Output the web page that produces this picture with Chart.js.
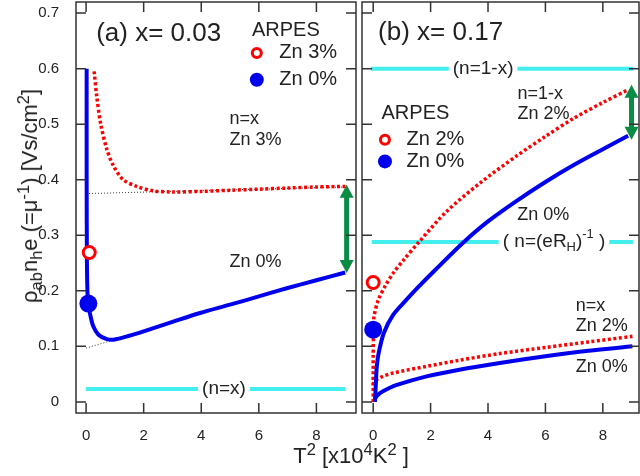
<!DOCTYPE html>
<html lang="en">
<head>
    <meta charset="UTF-8">
    <title>rho_ab n_h e vs T^2</title>
    <script src="https://cdn.jsdelivr.net/npm/chart.js"></script>
    <style>
        body {
            margin: 0;
            background: #fff;
            font-family: 'Liberation Sans', Arial, sans-serif;
            color: #222;
        }

        #wrap {
            position: relative;
            width: 640px;
            height: 476px;
            overflow: hidden;
        }

        #left { position: absolute; left: 0; top: 0; }
        #right { position: absolute; left: 359px; top: 0; }

        .title {
            position: absolute;
            white-space: nowrap;
            font-size: 22px;
            line-height: 1;
        }

        .ytitle {
            left: 30px;
            top: 196px;
            transform: translate(-50%, -50%) rotate(-90deg);
        }

        .xtitle {
            left: 351px;
            top: 456px;
            transform: translate(-50%, -50%);
        }

        sub, sup { font-size: 75%; line-height: 0; }
    </style>
</head>
<body>
    <div id="wrap">
        <canvas id="left" width="359" height="476"></canvas>
        <canvas id="right" width="281" height="476"></canvas>
        <div class="title ytitle">&rho;<sub>ab</sub>n<sub>h</sub>e (=&mu;<sup>-1</sup>) [Vs/cm<sup>2</sup>]</div>
        <div class="title xtitle">T<sup>2</sup> [x10<sup>4</sup>K<sup>2</sup> ]</div>
    </div>

    <script>
        // tick values shared by both panels
        const xTicks = [0, 2, 4, 6, 8];
        const yTicks = [0, 0.1, 0.2, 0.3, 0.4, 0.5, 0.6, 0.7];

        // (a) x = 0.03, T^2 in 10^4 K^2
        const aZn0T2  = [0.02, 0.02, 0.03, 0.05, 0.08, 0.14, 0.25, 0.43, 0.72, 0.95, 1.5, 2, 3, 3.96, 5, 6, 7, 8, 9.0];
        const aZn0Rho = [0.6, 0.4, 0.25, 0.195, 0.175, 0.158, 0.136, 0.121, 0.113, 0.112, 0.119, 0.127, 0.144, 0.16, 0.175, 0.19, 0.205, 0.219, 0.233];
        const aZn3T2  = [0.28, 0.37, 0.51, 0.72, 0.95, 1.29, 1.76, 2.33, 3, 4, 5, 6, 7, 8, 9.05];
        const aZn3Rho = [0.595, 0.55, 0.5, 0.455, 0.425, 0.4, 0.388, 0.38, 0.378, 0.379, 0.381, 0.383, 0.385, 0.387, 0.388];
        const aFitLowT2 = [0, 1.2];
        const aFitLowRho = [0.097, 0.115];
        const aFitHighT2 = [0, 9];
        const aFitHighRho = [0.375, 0.387];
        const aArpesZn3 = [0.11, 0.269];
        const aArpesZn0 = [0.08, 0.177];
        const aLevelNx = 0.023;

        // (b) x = 0.17
        const bUpZn2T2  = [0, 0, 0.01, 0.03, 0.18, 0.41, 0.7, 1.05, 1.63, 2.56, 3.72, 5, 6, 7, 8, 8.88];
        const bUpZn2Rho = [0, 0.08, 0.13, 0.154, 0.184, 0.208, 0.232, 0.255, 0.29, 0.343, 0.394, 0.443, 0.478, 0.511, 0.539, 0.562];
        const bUpZn0T2  = [0.06, 0.1, 0.12, 0.18, 0.37, 0.7, 1.16, 1.5, 2.15, 3.14, 4, 5, 6, 7, 8, 8.88];
        const bUpZn0Rho = [0, 0.04, 0.06, 0.085, 0.124, 0.157, 0.184, 0.203, 0.237, 0.287, 0.325, 0.362, 0.396, 0.427, 0.455, 0.479];
        const bLoZn2T2  = [0, 0.05, 0.3, 0.7, 1.86, 3, 4.41, 6, 7.5, 9.03];
        const bLoZn2Rho = [0.03, 0.037, 0.045, 0.052, 0.064, 0.075, 0.087, 0.098, 0.108, 0.118];
        const bLoZn0T2  = [0.06, 0.15, 0.34, 0.8, 1.86, 3, 4.41, 6, 7.5, 9.03];
        const bLoZn0Rho = [0.005, 0.012, 0.019, 0.03, 0.046, 0.058, 0.07, 0.082, 0.092, 0.1];
        const bArpesZn2 = [0, 0.215];
        const bArpesZn0 = [0, 0.13];
        const bLevel1mx = 0.6;
        const bLevelRH = 0.288;

        const FONT = '"Liberation Sans", Arial, sans-serif';
        const RED = '#ff0000';
        const BLUE = '#0000ee';
        const CYAN = '#44eeee';
        const GREEN = '#0b8c45';

        function pts(xs, ys) {
            return xs.map((x, i) => ({ x: x, y: ys[i] }));
        }

        function solid(data, color) {
            return { data: data, borderColor: color, borderWidth: 4, pointRadius: 0, tension: 0.3, fill: false };
        }

        function dotted(data) {
            return { data: data, borderColor: RED, borderWidth: 3.5, borderDash: [3, 2.5], pointRadius: 0, tension: 0.3, fill: false };
        }

        function thinDots(data) {
            return { data: data, borderColor: '#333', borderWidth: 1, borderDash: [1, 2], pointRadius: 0, tension: 0, fill: false };
        }

        function level(y, x0, x1) {
            return { data: [{ x: x0, y: y }, { x: x1, y: y }], borderColor: CYAN, borderWidth: 4, pointRadius: 0, fill: false };
        }

        function marker(p, open) {
            return {
                data: [{ x: p[0], y: p[1] }], showLine: false,
                pointRadius: open ? 6 : 9, pointHoverRadius: open ? 6 : 9,
                pointBorderWidth: open ? 3 : 0,
                pointBackgroundColor: open ? '#fff' : BLUE,
                pointBorderColor: open ? RED : BLUE
            };
        }

        // text with _{sub} and ^{sup} parts
        function drawRich(ctx, str, x, y, size, align) {
            const parts = [];
            const re = /([_^])\{([^}]*)\}|([^_^]+)/g;
            let m;
            while ((m = re.exec(str))) {
                parts.push(m[3] ? { s: m[3], k: 0 } : { s: m[2], k: m[1] === '^' ? 1 : -1 });
            }
            let w = 0;
            parts.forEach(p => {
                ctx.font = (p.k ? size * 0.68 : size) + 'px ' + FONT;
                p.w = ctx.measureText(p.s).width;
                w += p.w;
            });
            const left = align === 'center' ? x - w / 2 : x;
            return {
                left: left, width: w,
                draw() {
                    let cx = left;
                    ctx.textAlign = 'left';
                    ctx.textBaseline = 'middle';
                    ctx.fillStyle = '#222';
                    parts.forEach(p => {
                        ctx.font = (p.k ? size * 0.68 : size) + 'px ' + FONT;
                        const dy = p.k === 1 ? -size * 0.42 : p.k === -1 ? size * 0.3 : 0;
                        ctx.fillText(p.s, cx, y + dy);
                        cx += p.w;
                    });
                }
            };
        }

        function decor(cfg) {
            return {
                id: 'decor',
                afterDatasetsDraw(chart) {
                    const ctx = chart.ctx;
                    const X = v => chart.scales.x.getPixelForValue(v);
                    const Y = v => chart.scales.y.getPixelForValue(v);
                    ctx.save();

                    // labels sitting in a gap of the cyan lines
                    cfg.levelLabels.forEach(l => {
                        const t = drawRich(ctx, l.text, X(l.x), Y(l.y), 19, 'center');
                        ctx.fillStyle = '#fff';
                        ctx.fillRect(t.left - 4, Y(l.y) - 4, t.width + 8, 8);
                        t.draw();
                    });

                    cfg.notes.forEach(n => {
                        drawRich(ctx, n.text, X(n.x), Y(n.y), n.size || 18, 'left').draw();
                    });

                    cfg.legendMarks.forEach(m => {
                        ctx.beginPath();
                        if (m.open) {
                            ctx.arc(X(m.x), Y(m.y), 4.5, 0, Math.PI * 2);
                            ctx.lineWidth = 3;
                            ctx.strokeStyle = RED;
                            ctx.stroke();
                        } else {
                            ctx.arc(X(m.x), Y(m.y), 7, 0, Math.PI * 2);
                            ctx.fillStyle = BLUE;
                            ctx.fill();
                        }
                    });

                    // double-headed green arrows
                    cfg.arrows.forEach(a => {
                        const x = X(a.x), yt = Y(a.top), yb = Y(a.bottom), h = 13, hw = 7;
                        ctx.fillStyle = GREEN;
                        ctx.fillRect(x - 2.5, yt + h - 1, 5, yb - yt - 2 * h + 2);
                        ctx.beginPath();
                        ctx.moveTo(x, yt); ctx.lineTo(x - hw, yt + h); ctx.lineTo(x + hw, yt + h); ctx.closePath();
                        ctx.moveTo(x, yb); ctx.lineTo(x - hw, yb - h); ctx.lineTo(x + hw, yb - h); ctx.closePath();
                        ctx.fill();
                    });
                    ctx.restore();
                },
                afterDraw(chart) {
                    const ctx = chart.ctx, a = chart.chartArea;
                    const X = v => chart.scales.x.getPixelForValue(v);
                    const Y = v => chart.scales.y.getPixelForValue(v);
                    ctx.save();
                    ctx.strokeStyle = '#333';
                    ctx.lineWidth = 1.5;
                    ctx.strokeRect(a.left, a.top, a.right - a.left, a.bottom - a.top);
                    ctx.beginPath();
                    xTicks.forEach(v => {
                        ctx.moveTo(X(v), a.bottom); ctx.lineTo(X(v), a.bottom - 10);
                        ctx.moveTo(X(v), a.top); ctx.lineTo(X(v), a.top + 10);
                    });
                    yTicks.forEach(v => {
                        ctx.moveTo(a.left, Y(v)); ctx.lineTo(a.left + 10, Y(v));
                        ctx.moveTo(a.right, Y(v)); ctx.lineTo(a.right - 10, Y(v));
                    });
                    ctx.stroke();
                    ctx.restore();
                }
            };
        }

        // fixed axis sizes, no extra label padding, so both plot boxes line up
        function fixSize(s, w, h) {
            if (w !== null) s.width = w;
            if (h !== null) s.height = h;
            s.paddingTop = 0;
            s.paddingBottom = 0;
            s.paddingLeft = 0;
            s.paddingRight = 0;
        }

        function makeOptions(xMin, xMax, yWidth, pad) {
            return {
                responsive: false,
                animation: false,
                layout: { padding: pad, autoPadding: false },
                plugins: { legend: { display: false }, tooltip: { enabled: false } },
                scales: {
                    x: {
                        type: 'linear', min: xMin, max: xMax,
                        grid: { display: false }, border: { display: false },
                        afterBuildTicks: s => { s.ticks = xTicks.map(v => ({ value: v })); },
                        afterFit: s => fixSize(s, null, 63),
                        ticks: { color: '#222', padding: 6, font: { size: 15, family: FONT }, callback: v => String(v) }
                    },
                    y: {
                        type: 'linear', min: -0.02, max: 0.72,
                        grid: { display: false }, border: { display: false },
                        afterBuildTicks: s => { s.ticks = yTicks.map(v => ({ value: v })); },
                        afterFit: s => fixSize(s, yWidth, null),
                        ticks: {
                            display: yWidth > 0, color: '#222', padding: 9,
                            font: { size: 15, family: FONT }, callback: v => v === 0 ? '0' : v.toFixed(1)
                        }
                    }
                }
            };
        }

        new Chart(document.getElementById('left').getContext('2d'), {
            type: 'line',
            data: {
                datasets: [
                    marker(aArpesZn3, true),
                    marker(aArpesZn0, false),
                    solid(pts(aZn0T2, aZn0Rho), BLUE),
                    dotted(pts(aZn3T2, aZn3Rho)),
                    thinDots(pts(aFitLowT2, aFitLowRho)),
                    thinDots(pts(aFitHighT2, aFitHighRho)),
                    level(aLevelNx, 0, 9)
                ]
            },
            options: makeOptions(-0.35, 9.375, 76, { left: 0, top: 2, right: 3, bottom: 0 }),
            plugins: [decor({
                levelLabels: [{ text: '(n=x)', x: 4.79, y: aLevelNx }],
                notes: [
                    { text: '(a) x= 0.03', x: 0.35, y: 0.663, size: 26 },
                    { text: 'ARPES', x: 5.76, y: 0.668, size: 20 },
                    { text: 'Zn 3%', x: 6.71, y: 0.629, size: 20 },
                    { text: 'Zn 0%', x: 6.71, y: 0.58, size: 20 },
                    { text: 'n=x', x: 4.98, y: 0.51 },
                    { text: 'Zn 3%', x: 4.98, y: 0.472 },
                    { text: 'Zn 0%', x: 4.98, y: 0.252 }
                ],
                legendMarks: [{ x: 5.93, y: 0.628, open: true }, { x: 5.93, y: 0.58, open: false }],
                arrows: [{ x: 9.05, top: 0.391, bottom: 0.232 }]
            })]
        });

        new Chart(document.getElementById('right').getContext('2d'), {
            type: 'line',
            data: {
                datasets: [
                    marker(bArpesZn2, true),
                    marker(bArpesZn0, false),
                    solid(pts(bUpZn0T2, bUpZn0Rho), BLUE),
                    solid(pts(bLoZn0T2, bLoZn0Rho), BLUE),
                    dotted(pts(bUpZn2T2, bUpZn2Rho)),
                    dotted(pts(bLoZn2T2, bLoZn2Rho)),
                    level(bLevel1mx, -0.08, 9.05),
                    level(bLevelRH, -0.05, 9.05)
                ]
            },
            options: makeOptions(-0.39, 9.26, 0, { left: 3, top: 2, right: 1, bottom: 0 }),
            plugins: [decor({
                levelLabels: [
                    { text: '(n=1-x)', x: 3.83, y: bLevel1mx },
                    { text: '( n=(eR_{H})^{-1} )', x: 6.3, y: bLevelRH }
                ],
                notes: [
                    { text: '(b) x= 0.17', x: 0.17, y: 0.665, size: 26 },
                    { text: 'ARPES', x: 0.29, y: 0.52, size: 20 },
                    { text: 'Zn 2%', x: 1.16, y: 0.472, size: 20 },
                    { text: 'Zn 0%', x: 1.16, y: 0.433, size: 20 },
                    { text: 'n=1-x', x: 5.03, y: 0.555 },
                    { text: 'Zn 2%', x: 5.03, y: 0.519 },
                    { text: 'Zn 0%', x: 5.02, y: 0.337 },
                    { text: 'n=x', x: 7.06, y: 0.173 },
                    { text: 'Zn 2%', x: 7.06, y: 0.136 },
                    { text: 'Zn 0%', x: 7.06, y: 0.0625 }
                ],
                legendMarks: [{ x: 0.41, y: 0.472, open: true }, { x: 0.41, y: 0.433, open: false }],
                arrows: [{ x: 9.0, top: 0.571, bottom: 0.472 }]
            })]
        });
    </script>
</body>
</html>
